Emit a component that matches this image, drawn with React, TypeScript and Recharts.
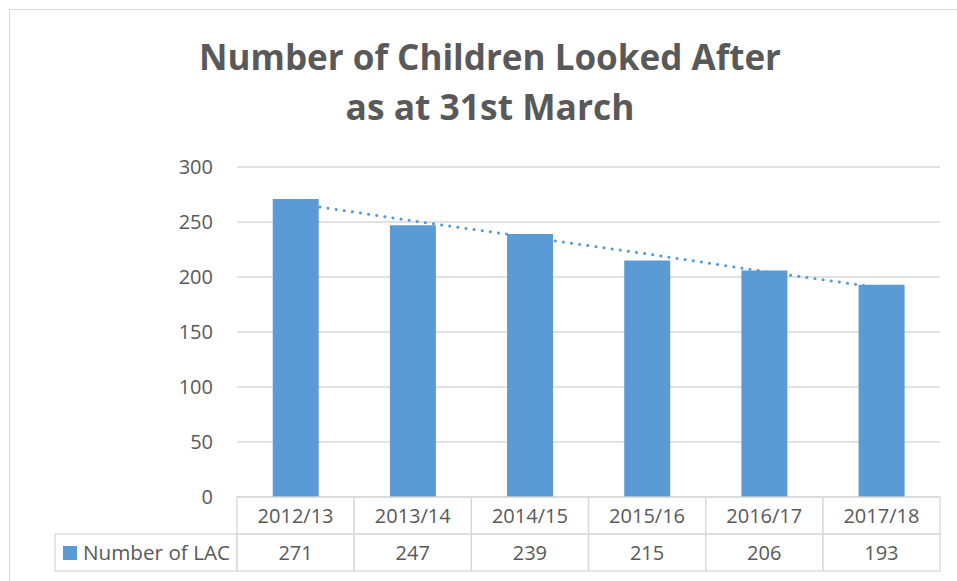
import { ComposedChart, Bar, Line, XAxis, YAxis, CartesianGrid } from "recharts";

const categories = ["2012/13", "2013/14", "2014/15", "2015/16", "2016/17", "2017/18"];
const lacValues = [271, 247, 239, 215, 206, 193];
// linear trendline
const trendValues = [267, 251, 236, 221, 205, 190];
const yTicks = [0, 50, 100, 150, 200, 250, 300];

const seriesName = "Number of LAC";
const titleLines = ["Number of Children Looked After", "as at 31st March"];

const data = categories.map((c, i) => ({ name: c, lac: lacValues[i], trend: trendValues[i] }));

const W = 957;
const H = 581;
const PLOT_LEFT = 237;
const PLOT_RIGHT = 940;
const BAND = (PLOT_RIGHT - PLOT_LEFT) / categories.length;
const ROW = 37;
const TEXT = "#595959";
const GRID = "#d9d9d9";
const BLUE = "#5b9bd5";
const FONT = "'Open Sans', sans-serif";

function TableTick(props: any) {
  const { x, y, payload } = props;
  const i = payload.index;
  const left = x - BAND / 2;
  return (
    <g>
      <rect x={left} y={y} width={BAND} height={ROW} fill="none" stroke={GRID} strokeWidth={1.3} />
      <rect x={left} y={y + ROW} width={BAND} height={ROW} fill="none" stroke={GRID} strokeWidth={1.3} />
      <text x={x} y={y + 26} textAnchor="middle" fill={TEXT} fontSize={20} fontFamily={FONT}>
        {payload.value}
      </text>
      <text x={x} y={y + ROW + 26} textAnchor="middle" fill={TEXT} fontSize={20} fontFamily={FONT}>
        {lacValues[i]}
      </text>
      {i === 0 && (
        <g>
          <rect x={55} y={y + ROW} width={left - 55} height={ROW} fill="none" stroke={GRID} strokeWidth={1.3} />
          <rect x={63} y={y + ROW + 12} width={14} height={14} fill={BLUE} />
          <text x={83} y={y + ROW + 26} fill={TEXT} fontSize={20} fontFamily={FONT} textLength={147} lengthAdjust="spacingAndGlyphs">
            {seriesName}
          </text>
        </g>
      )}
    </g>
  );
}

export default function App() {
  return (
    <div style={{ position: "fixed", left: 0, top: 0, width: W, height: H, overflow: "hidden", background: "#fff" }}>
      <div
        style={{
          position: "absolute",
          left: 9,
          top: 9,
          width: 1000,
          height: 700,
          border: "1.5px solid " + GRID,
        }}
      />
      <svg width={W} height={140} style={{ position: "absolute", left: 0, top: 0 }}>
        <text x={490} y={70} textAnchor="middle" fill={TEXT} fontSize={35} fontWeight="bold" fontFamily={FONT} textLength={582} lengthAdjust="spacingAndGlyphs">
          {titleLines[0]}
        </text>
        <text x={490} y={120} textAnchor="middle" fill={TEXT} fontSize={35} fontWeight="bold" fontFamily={FONT} textLength={289} lengthAdjust="spacingAndGlyphs">
          {titleLines[1]}
        </text>
      </svg>
      <div style={{ position: "absolute", left: 0, top: 0 }}>
        <ComposedChart
          width={W}
          height={H}
          data={data}
          margin={{ top: 167, right: W - PLOT_RIGHT, bottom: 0, left: 177 }}
          barCategoryGap="30.5%"
        >
          <CartesianGrid vertical={false} stroke={GRID} strokeWidth={1.5} />
          <XAxis
            dataKey="name"
            height={H - 497}
            axisLine={false}
            tickLine={false}
            tickSize={0}
            tickMargin={0}
            interval={0}
            tick={<TableTick />}
          />
          <YAxis
            width={60}
            domain={[0, 300]}
            ticks={yTicks}
            axisLine={false}
            tickLine={false}
            tickSize={6}
            tickMargin={18}
            tick={{ fill: TEXT, fontSize: 20, fontFamily: FONT }}
          />
          <Line
            dataKey="trend"
            type="linear"
            stroke={BLUE}
            strokeWidth={3}
            strokeDasharray="0.1 8.1"
            strokeLinecap="round"
            dot={false}
            activeDot={false}
            isAnimationActive={false}
          />
          <Bar dataKey="lac" fill={BLUE} isAnimationActive={false} />
        </ComposedChart>
      </div>
    </div>
  );
}
